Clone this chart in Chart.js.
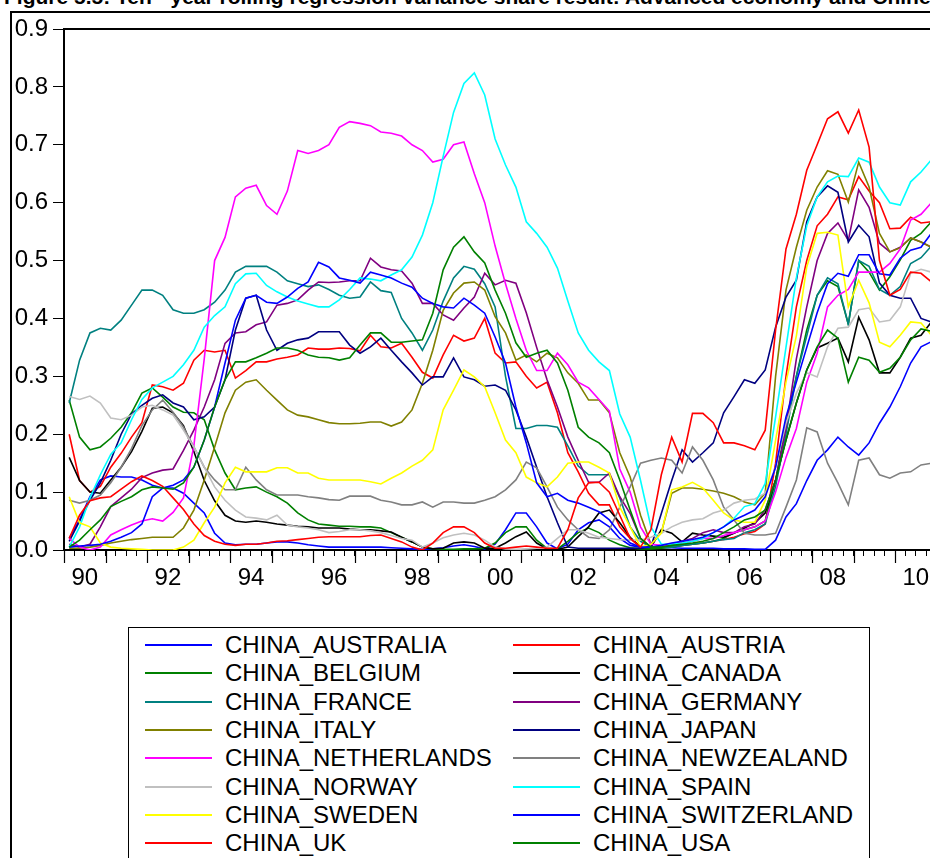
<!DOCTYPE html>
<html>
<head>
<meta charset="utf-8">
<script src="https://cdn.jsdelivr.net/npm/chart.js@4.4.0/dist/chart.umd.min.js"></script>
<style>
  html, body { margin: 0; padding: 0; background: #fff; overflow: hidden; }
  #page { position: relative; width: 930px; height: 858px; overflow: hidden; font-family: "Liberation Sans", Arial, sans-serif; }
  #title { position: absolute; left: 4px; top: -14px; font-weight: bold; font-size: 21px; line-height: 21px; white-space: nowrap; color: #000; }
  #frame { position: absolute; left: 10px; top: 11px; width: 1000px; height: 1000px; border-top: 2px solid #000; border-left: 2px solid #000; }
  #wrap { position: absolute; left: 0; top: 0; }
  #legend { position: absolute; left: 128px; top: 627px; width: 740px; height: 300px; border: 1px solid #000; background: #fff; }
  .item { position: absolute; height: 28px; line-height: 28px; font-size: 24px; white-space: nowrap; color: #000; }
  .item .swatch { position: absolute; top: 13px; width: 67px; height: 2px; }
  .item .name { position: absolute; }
</style>
</head>
<body>
<div id="page">
  <div id="title">Figure 5.5: Ten - year rolling regression variance share result: Advanced economy and Chinese</div>
  <div id="frame"></div>
  <div id="wrap"><canvas id="chart" width="955" height="600"></canvas></div>
  <div id="legend"></div>
</div>
<script>
// quarterly sample 1990Q1 - 2010Q4
var quarters = [];
for (var yr = 1990; yr <= 2010; yr++) {
  for (var q = 1; q <= 4; q++) quarters.push(yr + 'Q' + q);
}

var yTicks = [0.0, 0.1, 0.2, 0.3, 0.4, 0.5, 0.6, 0.7, 0.8, 0.9];
var xYearLabels = ['90', '92', '94', '96', '98', '00', '02', '04', '06', '08', '10'];

var china_australia = [
  0.020, 0.052, 0.092, 0.121, 0.128, 0.126, 0.126, 0.121, 0.112, 0.107,
  0.107, 0.098, 0.081, 0.064, 0.029, 0.012, 0.009, 0.010, 0.010, 0.012,
  0.014, 0.014, 0.012, 0.009, 0.007, 0.005, 0.005, 0.005, 0.005, 0.005,
  0.005, 0.004, 0.003, 0.002, 0.001, 0.002, 0.004, 0.007, 0.009, 0.006,
  0.002, 0.010, 0.035, 0.064, 0.064, 0.040, 0.012, 0.002, 0.010, 0.035,
  0.047, 0.052, 0.040, 0.020, 0.008, 0.005, 0.005, 0.004, 0.004, 0.003,
  0.003, 0.003, 0.003, 0.002, 0.002, 0.002, 0.001, 0.001, 0.017, 0.057,
  0.080, 0.120, 0.155, 0.173, 0.195, 0.178, 0.164, 0.185, 0.219, 0.247,
  0.282, 0.323, 0.351, 0.360
];
var china_austria = [
  0.200, 0.120, 0.100, 0.110, 0.143, 0.167, 0.195, 0.220, 0.285, 0.282,
  0.276, 0.288, 0.328, 0.345, 0.342, 0.345, 0.297, 0.310, 0.325, 0.325,
  0.330, 0.333, 0.337, 0.349, 0.347, 0.347, 0.349, 0.348, 0.344, 0.371,
  0.351, 0.349, 0.357, 0.333, 0.307, 0.297, 0.337, 0.371, 0.361, 0.366,
  0.400, 0.340, 0.323, 0.325, 0.300, 0.280, 0.290, 0.237, 0.168, 0.135,
  0.098, 0.078, 0.078, 0.040, 0.020, 0.005, 0.003, 0.004, 0.006, 0.008,
  0.010, 0.012, 0.015, 0.018, 0.022, 0.028, 0.032, 0.045, 0.150, 0.300,
  0.420, 0.500, 0.560, 0.580, 0.610, 0.605, 0.645, 0.620, 0.600, 0.555,
  0.556, 0.575, 0.565, 0.567
];
var china_belgium = [
  0.259, 0.195, 0.173, 0.178, 0.193, 0.212, 0.237, 0.271, 0.280, 0.264,
  0.247, 0.238, 0.237, 0.225, 0.173, 0.133, 0.104, 0.107, 0.109, 0.100,
  0.092, 0.081, 0.064, 0.052, 0.045, 0.043, 0.041, 0.041, 0.040, 0.040,
  0.038, 0.030, 0.022, 0.014, 0.005, 0.002, 0.001, 0.001, 0.002, 0.002,
  0.003, 0.012, 0.030, 0.040, 0.040, 0.017, 0.003, 0.002, 0.015, 0.030,
  0.038, 0.030, 0.017, 0.009, 0.004, 0.002, 0.002, 0.003, 0.005, 0.008,
  0.010, 0.012, 0.015, 0.020, 0.030, 0.035, 0.040, 0.050, 0.120, 0.220,
  0.300, 0.380, 0.440, 0.465, 0.455, 0.390, 0.500, 0.480, 0.449, 0.472,
  0.501, 0.535, 0.547, 0.567
];
var china_canada = [
  0.160, 0.120, 0.100, 0.098, 0.121, 0.143, 0.170, 0.205, 0.245, 0.247,
  0.237, 0.215, 0.170, 0.120, 0.085, 0.060, 0.050, 0.048, 0.050, 0.048,
  0.045, 0.043, 0.041, 0.040, 0.038, 0.038, 0.038, 0.036, 0.035, 0.035,
  0.033, 0.031, 0.022, 0.014, 0.005, 0.002, 0.003, 0.012, 0.014, 0.012,
  0.003, 0.003, 0.012, 0.023, 0.031, 0.012, 0.002, 0.001, 0.005, 0.023,
  0.040, 0.064, 0.069, 0.047, 0.022, 0.005, 0.005, 0.035, 0.029, 0.014,
  0.029, 0.026, 0.024, 0.022, 0.029, 0.038, 0.047, 0.064, 0.121, 0.190,
  0.254, 0.311, 0.349, 0.357, 0.366, 0.325, 0.402, 0.363, 0.306, 0.306,
  0.333, 0.366, 0.371, 0.394
];
var china_france = [
  0.254, 0.328, 0.375, 0.383, 0.380, 0.397, 0.423, 0.449, 0.449, 0.440,
  0.415, 0.409, 0.409, 0.415, 0.428, 0.449, 0.480, 0.490, 0.490, 0.490,
  0.480, 0.465, 0.460, 0.455, 0.458, 0.450, 0.440, 0.435, 0.437, 0.463,
  0.448, 0.445, 0.400, 0.375, 0.345, 0.380, 0.430, 0.470, 0.490, 0.485,
  0.460, 0.420, 0.300, 0.210, 0.210, 0.215, 0.215, 0.212, 0.180, 0.145,
  0.130, 0.130, 0.130, 0.090, 0.040, 0.015, 0.005, 0.005, 0.005, 0.008,
  0.010, 0.012, 0.015, 0.018, 0.020, 0.030, 0.035, 0.045, 0.110, 0.200,
  0.300, 0.370, 0.440, 0.470, 0.460, 0.390, 0.500, 0.490, 0.450, 0.440,
  0.455, 0.495, 0.505, 0.525
];
var china_germany = [
  0.010, 0.005, 0.010, 0.040, 0.075, 0.090, 0.105, 0.125, 0.133, 0.138,
  0.140, 0.172, 0.207, 0.247, 0.294, 0.357, 0.375, 0.377, 0.389, 0.394,
  0.423, 0.426, 0.432, 0.449, 0.463, 0.462, 0.463, 0.465, 0.465, 0.504,
  0.489, 0.484, 0.482, 0.461, 0.426, 0.426, 0.406, 0.397, 0.418, 0.437,
  0.478, 0.458, 0.466, 0.461, 0.410, 0.350, 0.294, 0.247, 0.195, 0.155,
  0.117, 0.117, 0.133, 0.092, 0.063, 0.020, 0.005, 0.005, 0.010, 0.015,
  0.020, 0.030, 0.035, 0.030, 0.030, 0.040, 0.045, 0.070, 0.120, 0.210,
  0.330, 0.420, 0.500, 0.547, 0.565, 0.535, 0.622, 0.592, 0.530, 0.515,
  0.523, 0.539, 0.532, 0.523
];
var china_italy = [
  0.003, 0.003, 0.005, 0.008, 0.012, 0.015, 0.018, 0.020, 0.022, 0.022,
  0.022, 0.038, 0.069, 0.121, 0.178, 0.237, 0.276, 0.290, 0.294, 0.276,
  0.259, 0.242, 0.233, 0.230, 0.225, 0.220, 0.218, 0.218, 0.219, 0.221,
  0.221, 0.214, 0.221, 0.242, 0.288, 0.345, 0.414, 0.444, 0.461, 0.463,
  0.449, 0.403, 0.375, 0.328, 0.337, 0.325, 0.340, 0.332, 0.306, 0.288,
  0.259, 0.259, 0.237, 0.168, 0.126, 0.060, 0.010, 0.030, 0.098, 0.107,
  0.107, 0.105, 0.102, 0.098, 0.092, 0.083, 0.078, 0.098, 0.300, 0.449,
  0.523, 0.587, 0.627, 0.655, 0.649, 0.601, 0.670, 0.627, 0.547, 0.515,
  0.522, 0.539, 0.532, 0.523
];
var china_japan = [
  0.015, 0.050, 0.086, 0.116, 0.155, 0.200, 0.235, 0.250, 0.262, 0.268,
  0.254, 0.247, 0.225, 0.230, 0.247, 0.294, 0.380, 0.435, 0.440, 0.380,
  0.345, 0.357, 0.363, 0.366, 0.377, 0.377, 0.377, 0.354, 0.340, 0.351,
  0.366, 0.345, 0.325, 0.306, 0.285, 0.299, 0.299, 0.332, 0.299, 0.294,
  0.283, 0.285, 0.276, 0.242, 0.195, 0.143, 0.092, 0.047, 0.005, 0.003,
  0.003, 0.003, 0.003, 0.003, 0.003, 0.003, 0.005, 0.063, 0.120, 0.173,
  0.152, 0.168, 0.185, 0.237, 0.265, 0.294, 0.288, 0.311, 0.385, 0.437,
  0.466, 0.567, 0.610, 0.629, 0.618, 0.532, 0.561, 0.541, 0.461, 0.440,
  0.435, 0.435, 0.400, 0.394
];
var china_netherlands = [
  0.020, 0.005, 0.000, 0.005, 0.026, 0.035, 0.043, 0.050, 0.054, 0.050,
  0.065, 0.090, 0.180, 0.330, 0.500, 0.540, 0.610, 0.625, 0.630, 0.595,
  0.580, 0.620, 0.690, 0.685, 0.690, 0.700, 0.730, 0.740, 0.737, 0.733,
  0.722, 0.720, 0.715, 0.700, 0.690, 0.670, 0.675, 0.700, 0.705, 0.650,
  0.600, 0.525, 0.460, 0.400, 0.345, 0.310, 0.310, 0.340, 0.320, 0.290,
  0.280, 0.260, 0.240, 0.140, 0.100, 0.040, 0.010, 0.008, 0.010, 0.012,
  0.015, 0.020, 0.020, 0.025, 0.030, 0.035, 0.040, 0.050, 0.100, 0.160,
  0.210, 0.290, 0.340, 0.420, 0.440, 0.450, 0.480, 0.480, 0.480, 0.495,
  0.520, 0.570, 0.580, 0.600
];
var china_newzealand = [
  0.086, 0.081, 0.086, 0.095, 0.116, 0.143, 0.175, 0.215, 0.242, 0.259,
  0.238, 0.212, 0.178, 0.143, 0.121, 0.104, 0.104, 0.143, 0.121, 0.104,
  0.095, 0.095, 0.095, 0.092, 0.090, 0.087, 0.086, 0.093, 0.093, 0.093,
  0.086, 0.083, 0.078, 0.078, 0.083, 0.074, 0.083, 0.083, 0.081, 0.081,
  0.086, 0.092, 0.104, 0.121, 0.152, 0.142, 0.109, 0.074, 0.052, 0.035,
  0.022, 0.020, 0.035, 0.074, 0.109, 0.150, 0.155, 0.159, 0.155, 0.133,
  0.178, 0.155, 0.121, 0.074, 0.052, 0.029, 0.026, 0.026, 0.029, 0.074,
  0.121, 0.211, 0.204, 0.150, 0.116, 0.078, 0.155, 0.159, 0.130, 0.124,
  0.133, 0.135, 0.147, 0.150
];
var china_norway = [
  0.265, 0.260, 0.266, 0.254, 0.228, 0.225, 0.233, 0.247, 0.250, 0.242,
  0.233, 0.207, 0.178, 0.143, 0.109, 0.086, 0.069, 0.057, 0.055, 0.052,
  0.060, 0.043, 0.040, 0.038, 0.035, 0.030, 0.032, 0.035, 0.035, 0.033,
  0.030, 0.025, 0.020, 0.017, 0.005, 0.012, 0.021, 0.026, 0.029, 0.026,
  0.017, 0.005, 0.002, 0.001, 0.002, 0.003, 0.005, 0.020, 0.035, 0.035,
  0.029, 0.022, 0.020, 0.018, 0.017, 0.017, 0.022, 0.029, 0.040, 0.048,
  0.052, 0.054, 0.064, 0.069, 0.081, 0.086, 0.088, 0.098, 0.143, 0.219,
  0.271, 0.306, 0.299, 0.351, 0.383, 0.385, 0.415, 0.418, 0.394, 0.397,
  0.420, 0.478, 0.485, 0.480
];
var china_spain = [
  0.005, 0.040, 0.090, 0.130, 0.165, 0.185, 0.225, 0.260, 0.280, 0.290,
  0.300, 0.320, 0.345, 0.385, 0.405, 0.420, 0.460, 0.477, 0.478, 0.457,
  0.446, 0.437, 0.430, 0.425, 0.420, 0.420, 0.432, 0.450, 0.470, 0.468,
  0.465, 0.475, 0.484, 0.506, 0.544, 0.600, 0.680, 0.756, 0.806, 0.824,
  0.786, 0.710, 0.665, 0.627, 0.567, 0.547, 0.523, 0.487, 0.430, 0.375,
  0.345, 0.325, 0.310, 0.235, 0.195, 0.120, 0.040, 0.010, 0.010, 0.012,
  0.015, 0.020, 0.030, 0.040, 0.055, 0.075, 0.080, 0.115, 0.230, 0.350,
  0.470, 0.560, 0.610, 0.636, 0.646, 0.645, 0.677, 0.670, 0.627, 0.600,
  0.596, 0.636, 0.653, 0.674
];
var china_sweden = [
  0.092, 0.047, 0.040, 0.012, 0.005, 0.003, 0.002, 0.001, 0.000, 0.000,
  0.000, 0.005, 0.017, 0.047, 0.074, 0.116, 0.143, 0.135, 0.135, 0.135,
  0.142, 0.142, 0.133, 0.133, 0.124, 0.121, 0.121, 0.121, 0.121, 0.118,
  0.114, 0.124, 0.133, 0.145, 0.155, 0.173, 0.242, 0.276, 0.311, 0.299,
  0.282, 0.237, 0.190, 0.168, 0.126, 0.116, 0.109, 0.126, 0.150, 0.152,
  0.152, 0.143, 0.133, 0.074, 0.040, 0.005, 0.010, 0.029, 0.104, 0.109,
  0.117, 0.107, 0.086, 0.064, 0.052, 0.048, 0.048, 0.086, 0.190, 0.290,
  0.370, 0.489, 0.547, 0.549, 0.544, 0.420, 0.466, 0.427, 0.359, 0.351,
  0.371, 0.394, 0.392, 0.371
];
var china_switzerland = [
  0.005, 0.007, 0.008, 0.010, 0.015, 0.022, 0.030, 0.045, 0.092, 0.107,
  0.112, 0.121, 0.143, 0.190, 0.247, 0.323, 0.397, 0.435, 0.440, 0.428,
  0.426, 0.437, 0.452, 0.463, 0.497, 0.489, 0.470, 0.466, 0.461, 0.480,
  0.475, 0.470, 0.461, 0.454, 0.435, 0.426, 0.420, 0.418, 0.435, 0.423,
  0.409, 0.368, 0.323, 0.247, 0.185, 0.116, 0.092, 0.098, 0.086, 0.081,
  0.074, 0.066, 0.052, 0.029, 0.012, 0.005, 0.005, 0.008, 0.012, 0.015,
  0.018, 0.022, 0.030, 0.040, 0.052, 0.060, 0.069, 0.092, 0.143, 0.230,
  0.290, 0.350, 0.410, 0.460, 0.478, 0.473, 0.510, 0.510, 0.477, 0.475,
  0.504, 0.518, 0.523, 0.547
];
var china_uk = [
  0.020, 0.060, 0.085, 0.090, 0.092, 0.105, 0.118, 0.128, 0.120, 0.110,
  0.090, 0.070, 0.045, 0.025, 0.015, 0.010, 0.008, 0.010, 0.010, 0.012,
  0.015, 0.016, 0.018, 0.020, 0.022, 0.023, 0.023, 0.023, 0.023, 0.025,
  0.026, 0.020, 0.014, 0.005, 0.000, 0.012, 0.030, 0.040, 0.040, 0.030,
  0.012, 0.003, 0.003, 0.005, 0.007, 0.005, 0.003, 0.003, 0.035, 0.090,
  0.116, 0.117, 0.100, 0.060, 0.020, 0.005, 0.035, 0.130, 0.195, 0.152,
  0.236, 0.236, 0.220, 0.185, 0.185, 0.180, 0.173, 0.207, 0.380, 0.520,
  0.580, 0.656, 0.700, 0.745, 0.757, 0.720, 0.760, 0.696, 0.500, 0.440,
  0.450, 0.480, 0.478, 0.463
];
var china_usa = [
  0.005, 0.017, 0.035, 0.052, 0.075, 0.084, 0.092, 0.104, 0.109, 0.107,
  0.105, 0.116, 0.143, 0.190, 0.247, 0.294, 0.325, 0.325, 0.332, 0.340,
  0.349, 0.349, 0.345, 0.337, 0.333, 0.332, 0.328, 0.332, 0.354, 0.375,
  0.375, 0.359, 0.359, 0.361, 0.363, 0.409, 0.484, 0.523, 0.541, 0.515,
  0.496, 0.449, 0.409, 0.358, 0.333, 0.340, 0.345, 0.323, 0.276, 0.212,
  0.195, 0.185, 0.168, 0.121, 0.069, 0.020, 0.005, 0.005, 0.008, 0.010,
  0.012, 0.015, 0.020, 0.030, 0.040, 0.052, 0.057, 0.069, 0.121, 0.190,
  0.254, 0.311, 0.351, 0.380, 0.366, 0.290, 0.333, 0.328, 0.307, 0.314,
  0.333, 0.363, 0.382, 0.378
];

var seriesNames = [
  'CHINA_AUSTRALIA', 'CHINA_AUSTRIA', 'CHINA_BELGIUM', 'CHINA_CANADA',
  'CHINA_FRANCE', 'CHINA_GERMANY', 'CHINA_ITALY', 'CHINA_JAPAN',
  'CHINA_NETHERLANDS', 'CHINA_NEWZEALAND', 'CHINA_NORWAY', 'CHINA_SPAIN',
  'CHINA_SWEDEN', 'CHINA_SWITZERLAND', 'CHINA_UK', 'CHINA_USA'
];
var seriesValues = [
  china_australia, china_austria, china_belgium, china_canada,
  china_france, china_germany, china_italy, china_japan,
  china_netherlands, china_newzealand, china_norway, china_spain,
  china_sweden, china_switzerland, china_uk, china_usa
];
var seriesColors = [
  '#0000ff', '#ff0000', '#008000', '#000000',
  '#008080', '#800080', '#808000', '#000080',
  '#ff00ff', '#808080', '#c0c0c0', '#00ffff',
  '#ffff00', '#0000ff', '#ff0000', '#008000'
];

// quarter label -> position on a year scale (middle of the quarter)
function quarterPos(label) {
  var y = parseInt(label.slice(0, 4), 10);
  var q = parseInt(label.slice(5), 10);
  return y + (q - 1) / 4 + 0.125;
}

var datasets = seriesNames.map(function(name, i) {
  return {
    label: name,
    data: seriesValues[i].map(function(v, j) { return { x: quarterPos(quarters[j]), y: v }; }),
    borderColor: seriesColors[i],
    backgroundColor: seriesColors[i],
    borderWidth: 1.6,
    pointRadius: 0,
    tension: 0,
    fill: false,
    order: seriesNames.length - i
  };
});

var axisFont = { family: '"Liberation Sans", Arial, sans-serif', size: 24 };

// long year ticks under the date axis + top edge of the plot box
var framePlugin = {
  id: 'frame',
  afterDraw: function(chart) {
    var ctx = chart.ctx, area = chart.chartArea, xs = chart.scales.x;
    ctx.save();
    ctx.strokeStyle = '#000';
    ctx.lineWidth = 2;
    ctx.beginPath();
    ctx.moveTo(area.left - 1, area.top);
    ctx.lineTo(area.right, area.top);
    ctx.stroke();
    ctx.lineWidth = 1.2;
    ctx.beginPath();
    for (var y = 1990; y <= 2011; y++) {
      var px = Math.round(xs.getPixelForValue(y)) + 0.5;
      ctx.moveTo(px, area.bottom);
      ctx.lineTo(px, area.bottom + 13);
    }
    ctx.stroke();
    ctx.restore();
  }
};

var chart = new Chart(document.getElementById('chart').getContext('2d'), {
  type: 'line',
  data: { datasets: datasets },
  plugins: [framePlugin],
  options: {
    responsive: false,
    animation: false,
    devicePixelRatio: 1,
    layout: { padding: { top: 29, left: 0, right: 0, bottom: 0 } },
    plugins: { legend: { display: false }, tooltip: { enabled: false }, title: { display: false } },
    scales: {
      x: {
        type: 'linear',
        min: 1990,
        max: 2011.25,
        afterBuildTicks: function(scale) {
          var t = [];
          for (var k = 0; k <= 85; k++) t.push({ value: 1990 + k * 0.25 });
          scale.ticks = t;
        },
        afterFit: function(scale) { scale.height = 50; },
        grid: { drawOnChartArea: false, drawTicks: true, tickLength: 6, color: '#000', tickWidth: 1 },
        border: { display: true, color: '#000', width: 2 },
        ticks: {
          autoSkip: false,
          maxRotation: 0,
          minRotation: 0,
          padding: 8,
          color: '#000',
          font: axisFont,
          callback: function(value) {
            var start = value - 0.5;
            if (Math.abs(start - Math.round(start)) > 1e-9) return '';
            var idx = (Math.round(start) - 1990) / 2;
            return (idx >= 0 && idx === Math.floor(idx) && idx < xYearLabels.length) ? xYearLabels[idx] : '';
          }
        }
      },
      y: {
        min: 0,
        max: 0.9,
        afterBuildTicks: function(scale) {
          scale.ticks = yTicks.map(function(v) { return { value: v }; });
        },
        afterFit: function(scale) { scale.width = 64; },
        grid: { drawOnChartArea: false, drawTicks: true, tickLength: 11, color: '#000' },
        border: { display: true, color: '#000', width: 2 },
        ticks: {
          padding: 5,
          color: '#000',
          font: axisFont,
          callback: function(value) { return value.toFixed(1); }
        }
      }
    }
  }
});

// legend: two columns, filled row by row like the original
var legend = document.getElementById('legend');
seriesNames.forEach(function(name, i) {
  var col = i % 2, row = Math.floor(i / 2);
  var item = document.createElement('div');
  item.className = 'item';
  item.style.left = (col === 0 ? 16 : 384) + 'px';
  item.style.top = (3 + row * 28.3) + 'px';
  var sw = document.createElement('span');
  sw.className = 'swatch';
  sw.style.left = '0px';
  sw.style.background = seriesColors[i];
  var tx = document.createElement('span');
  tx.className = 'name';
  tx.style.left = '80px';
  tx.textContent = name;
  item.appendChild(sw);
  item.appendChild(tx);
  legend.appendChild(item);
});
</script>
</body>
</html>
